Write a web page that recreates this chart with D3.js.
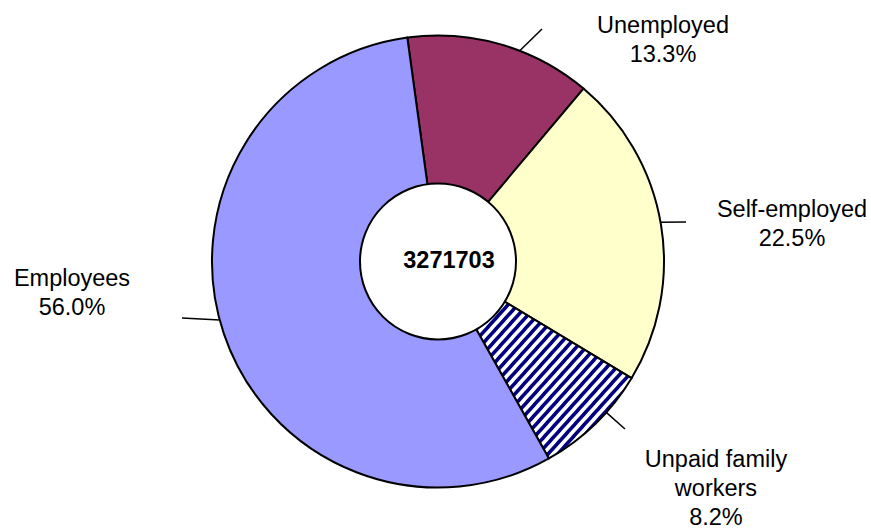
<!DOCTYPE html>
<html>
<head>
<meta charset="utf-8">
<script src="https://cdn.jsdelivr.net/npm/d3@7"></script>
<style>
  body { margin: 0; background: #fff; }
  text { font-family: "Liberation Sans", Arial, sans-serif; }
</style>
</head>
<body>
<script>
// data
const categories = ["Unemployed", "Self-employed", "Unpaid family workers", "Employees"];
const labelLines = [["Unemployed"], ["Self-employed"], ["Unpaid family", "workers"], ["Employees"]];
const shares = [13.3, 22.5, 8.2, 56.0];
const total = 3271703;

// look
const fills = ["#993366", "#FFFFCC", "url(#stripes)", "#9999FF"];
// label anchors and leader lines (angle on the rim, outer end)
const labelPos = [
  {x: 663, y: 33, leadAngle: 21.2, lx: 542, ly: 29},
  {x: 792, y: 217, leadAngle: 80.0, lx: 686, ly: 222},
  {x: 716, y: 467, leadAngle: 131.9, lx: 625, ly: 429},
  {x: 72, y: 286, leadAngle: 255, lx: 182, ly: 318}
];

const width = 871, height = 530;
const cx = 438, cy = 261.5, outerR = 226, innerR = 78;
const startDeg = -7.8;
const lineH = 29;

const svg = d3.select("body").append("svg")
  .attr("width", width)
  .attr("height", height);

const defs = svg.append("defs");
const pat = defs.append("pattern")
  .attr("id", "stripes")
  .attr("patternUnits", "userSpaceOnUse")
  .attr("width", 7.2)
  .attr("height", 10)
  .attr("patternTransform", "rotate(42)");
pat.append("rect").attr("width", 7.2).attr("height", 10).attr("fill", "#fff");
pat.append("line")
  .attr("x1", 1.8).attr("y1", 0).attr("x2", 1.8).attr("y2", 10)
  .attr("stroke", "#000080")
  .attr("stroke-width", 3.6);

const data = categories.map((c, i) => ({name: c, value: shares[i], i: i}));

const pie = d3.pie()
  .sort(null)
  .value(d => d.value)
  .startAngle(startDeg * Math.PI / 180)
  .endAngle((startDeg + 360) * Math.PI / 180);

const arc = d3.arc().innerRadius(0).outerRadius(outerR);

const g = svg.append("g").attr("transform", `translate(${cx},${cy})`);

g.selectAll("path.slice")
  .data(pie(data))
  .enter()
  .append("path")
  .attr("class", "slice")
  .attr("d", arc)
  .attr("fill", d => fills[d.data.i])
  .attr("stroke", "#000")
  .attr("stroke-width", 2)
  .attr("stroke-linejoin", "round");

// hole
g.append("circle")
  .attr("r", innerR)
  .attr("fill", "#fff")
  .attr("stroke", "#000")
  .attr("stroke-width", 2);

svg.append("text")
  .attr("x", 449)
  .attr("y", 267.5)
  .attr("text-anchor", "middle")
  .attr("font-size", 23.5)
  .attr("font-weight", "bold")
  .attr("fill", "#000")
  .text(total);

// leader lines
data.forEach((d, i) => {
  const p = labelPos[i];
  const s = d3.pointRadial(p.leadAngle * Math.PI / 180, outerR);
  svg.append("line")
    .attr("x1", cx + s[0]).attr("y1", cy + s[1])
    .attr("x2", p.lx).attr("y2", p.ly)
    .attr("stroke", "#000")
    .attr("stroke-width", 1.5);
});

// labels
data.forEach((d, i) => {
  const p = labelPos[i];
  const lines = labelLines[i].concat([d.value.toFixed(1) + "%"]);
  const t = svg.append("text")
    .attr("text-anchor", "middle")
    .attr("font-size", 23.5)
    .attr("fill", "#000");
  lines.forEach((ln, k) => {
    t.append("tspan")
      .attr("x", p.x)
      .attr("y", p.y + k * lineH)
      .text(ln);
  });
});
</script>
</body>
</html>
